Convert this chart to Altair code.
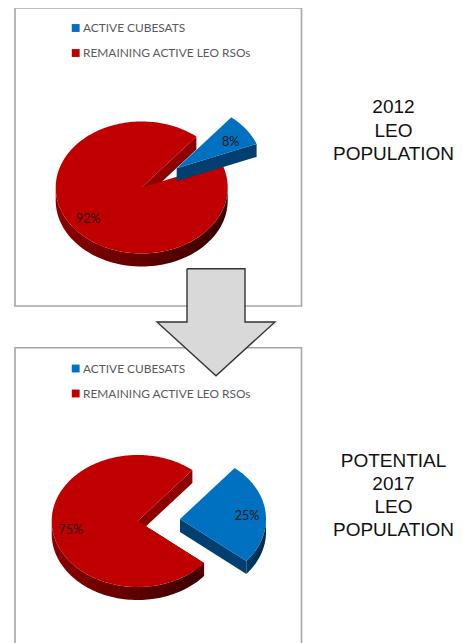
import math
import altair as alt
import pandas as pd

# ---- chart values ----
SERIES = ["ACTIVE CUBESATS", "REMAINING ACTIVE LEO RSOs"]
SHARES_2012 = [8, 92]
SHARES_2017 = [25, 75]
TITLE_2012 = ["2012", "LEO", "POPULATION"]
TITLE_2017 = ["POTENTIAL", "2017", "LEO", "POPULATION"]

RED, BLUE = "#C00000", "#0070C0"
RED_CUT, BLUE_CUT = "#8E0000", "#003F6F"
RX, RY, DEPTH = 86, 66, 13
W, H = 447, 635


def ell(cx, cy, deg):
    a = math.radians(deg)
    return (cx + RX * math.sin(a), cy - RY * math.cos(a))


def arc(cx, cy, a0, a1, n=80):
    return [ell(cx, cy, a0 + (a1 - a0) * i / n) for i in range(n + 1)]


def drop(pts):
    return [(x, y + DEPTH) for x, y in pts]


X = alt.X("x:Q", scale=alt.Scale(domain=[8, 8 + W], nice=False, zero=False), axis=None)
Y = alt.Y("y:Q", scale=alt.Scale(domain=[8 + H, 8], nice=False, zero=False), axis=None)


def poly(points, **mark):
    df = pd.DataFrame(points, columns=["x", "y"]).assign(i=range(len(points)))
    return alt.Chart(df).mark_line(strokeWidth=0, **mark).encode(x=X, y=Y, order=alt.Order("i:Q"))


def grad(c0, c1):
    return alt.LinearGradient(gradient="linear", x1=0, x2=1, y1=0, y2=0,
                              stops=[alt.GradientStop(offset=0, color=c0),
                                     alt.GradientStop(offset=1, color=c1)])


def pie(shares, start, red_c, blue_c):
    """Two-slice tilted pie; `start` is the clockwise-from-top angle where the blue slice begins."""
    sweep = shares[0] * 3.6
    end = start + sweep
    layers = []
    rim_start = max(end, 90)
    rim = arc(*red_c, rim_start, 270)
    layers.append(poly(rim + drop(rim)[::-1], fill=grad("#8A0000", "#3A0000")))
    if end > 90:
        e = ell(*red_c, end)
        layers.append(poly([red_c, e] + drop([e]) + drop([red_c]), fill="#5A0000"))
    s = ell(*red_c, start)
    layers.append(poly([red_c, s] + drop([s]) + drop([red_c]), fill=RED_CUT))
    layers.append(poly([red_c] + arc(*red_c, end, start + 360, 240), fill=RED))
    be = ell(*blue_c, end)
    layers.append(poly([blue_c, be] + drop([be]) + drop([blue_c]), fill=BLUE_CUT))
    if end > 90:
        rim = arc(*blue_c, 90, end)
        layers.append(poly(rim + drop(rim)[::-1], fill=grad("#003A66", "#002A4C")))
    layers.append(poly([blue_c] + arc(*blue_c, start, end), fill=BLUE))
    return layers


def frame(x0, x1, y0, y1):
    return alt.Chart(pd.DataFrame([dict(x=x0, x2=x1, y=y0, y2=y1)])).mark_rect(
        fill="white", stroke="#A6A6A6", strokeWidth=1.6
    ).encode(x=X, x2="x2:Q", y=Y, y2="y2:Q")


def texts(rows, color, size, font, **kw):
    df = pd.DataFrame(rows, columns=["x", "y", "t"])
    return alt.Chart(df).mark_text(color=color, fontSize=size, font=font, **kw).encode(x=X, y=Y, text="t:N")


def legend(y0, y1):
    sq = pd.DataFrame({"x": [75.7, 75.7], "y": [y0, y1], "s": SERIES})
    squares = alt.Chart(sq).mark_square(size=62, opacity=1).encode(
        x=X, y=Y,
        color=alt.Color("s:N", scale=alt.Scale(domain=SERIES, range=[BLUE, RED]), legend=None),
    )
    return [squares, texts([(83, y0, SERIES[0]), (83, y1, SERIES[1])], "#595959", 11.9, "Lato", align="left", baseline="middle")]


ARROW = [(187, 268.7), (245, 268.7), (245, 322), (275, 322), (216, 375.7), (157, 322), (187, 322), (187, 268.7)]

layers = [frame(15, 301.5, 8, 306), frame(15, 301.5, 347.7, 660)]
layers += legend(28, 53) + legend(368.5, 393.5)
layers += pie(SHARES_2012, 39.5, (141.7, 187.5), (176.7, 168.3))
layers += pie(SHARES_2017, 39.5, (137.7, 521), (180, 519))
layers.append(texts([(230.7, 141.7, f"{SHARES_2012[0]}%"), (88, 219, f"{SHARES_2012[1]}%"),
                     (247, 515.7, f"{SHARES_2017[0]}%"), (70.7, 530, f"{SHARES_2017[1]}%")],
                    "#2B1414", 12.6, "Lato", align="center", baseline="middle"))
layers.append(poly(ARROW, fill="#D9D9D9"))
arrow_df = pd.DataFrame(ARROW, columns=["x", "y"]).assign(i=range(len(ARROW)))
layers.append(alt.Chart(arrow_df).mark_line(color="#333333", strokeWidth=1.4).encode(x=X, y=Y, order=alt.Order("i:Q")))
rows = [(393.5, y, t) for y, t in zip([107, 131, 154], TITLE_2012)]
rows += [(393.5, y, t) for y, t in zip([461, 484, 507, 530], TITLE_2017)]
layers.append(texts(rows, "#111111", 19, "Liberation Sans", align="center", baseline="middle"))

chart = alt.layer(*layers).properties(width=W, height=H, padding=0, autosize="none").configure_view(stroke=None)
chart.save("out.html", embed_options={"renderer": "svg", "actions": False})
